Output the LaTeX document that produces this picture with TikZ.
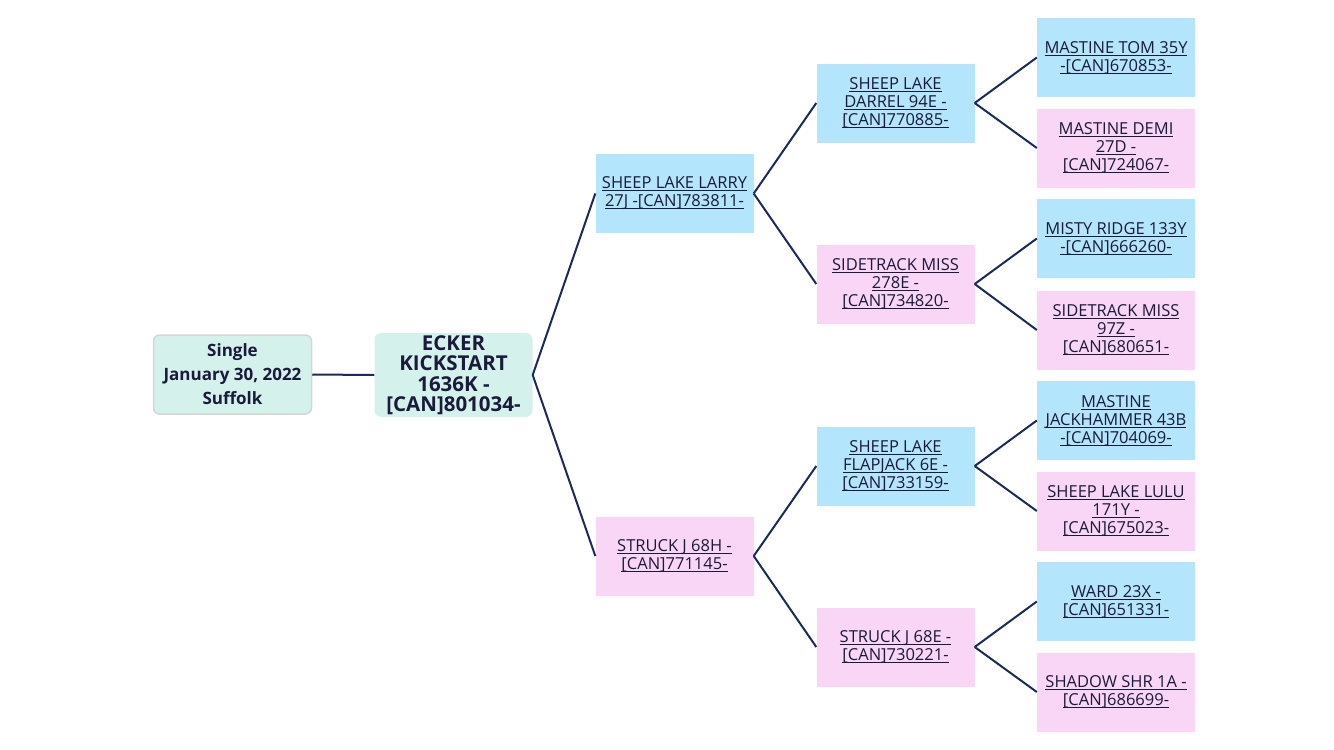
\documentclass[tikz,border=0pt]{standalone}
\usepackage{fontspec}
\setmainfont{Open Sans}
\definecolor{bluebox}{HTML}{B3E5FC}
\definecolor{pinkbox}{HTML}{F9D6F5}
\definecolor{tealbox}{HTML}{D4F1EC}
\definecolor{infoborder}{HTML}{D6D6D6}
\definecolor{linec}{HTML}{1B2A5C}
\definecolor{textc}{HTML}{1A1A3A}
\newcommand\ulx[1]{\setbox0\hbox{#1}\rlap{\rule[-2.2pt]{\wd0}{0.8pt}}\box0}
\tikzset{
  box/.style={minimum width=158pt, minimum height=79pt, align=center, inner sep=2pt,
    text=textc, font=\fontsize{16.5}{18}\selectfont},
  bluebox/.style={box, fill=bluebox},
  pinkbox/.style={box, fill=pinkbox},
  rootbox/.style={box, fill=tealbox, rounded corners=6pt, font=\bfseries\fontsize{20.5}{20.5}\selectfont},
  infobox/.style={box, fill=tealbox, draw=infoborder, line width=1.5pt, rounded corners=6pt, font=\bfseries\fontsize{17}{24}\selectfont},
  conn/.style={draw=linec, line width=2pt}
}
\begin{document}
\begin{tikzpicture}[x=1pt,y=-1pt]
\useasboundingbox (0,0) rectangle (1334,750);
\node[infobox] (info) at (232.5,374.5) {Single\\January 30, 2022\\Suffolk};
\node[rootbox] (root) at (453.5,375) {ECKER\\KICKSTART\\1636K -\\{}[CAN]801034-};
\node[bluebox] (s) at (674.5,193.5) {\ulx{SHEEP LAKE LARRY}\\\ulx{27J -[CAN]783811-}};
\node[pinkbox] (d) at (674.5,556) {\ulx{STRUCK J 68H -}\\\ulx{[CAN]771145-}};
\node[bluebox] (ss) at (895.5,103) {\ulx{SHEEP LAKE}\\\ulx{DARREL 94E -}\\\ulx{[CAN]770885-}};
\node[pinkbox] (sd) at (895.5,284) {\ulx{SIDETRACK MISS}\\\ulx{278E -}\\\ulx{[CAN]734820-}};
\node[bluebox] (ds) at (895.5,466) {\ulx{SHEEP LAKE}\\\ulx{FLAPJACK 6E -}\\\ulx{[CAN]733159-}};
\node[pinkbox] (dd) at (895.5,647) {\ulx{STRUCK J 68E -}\\\ulx{[CAN]730221-}};
\node[bluebox] (sss) at (1116,57.5) {\ulx{MASTINE TOM 35Y}\\\ulx{-[CAN]670853-}};
\node[pinkbox] (ssd) at (1116,148) {\ulx{MASTINE DEMI}\\\ulx{27D -}\\\ulx{[CAN]724067-}};
\node[bluebox] (sds) at (1116,238.5) {\ulx{MISTY RIDGE 133Y}\\\ulx{-[CAN]666260-}};
\node[pinkbox] (sdd) at (1116,330) {\ulx{SIDETRACK MISS}\\\ulx{97Z -}\\\ulx{[CAN]680651-}};
\node[bluebox] (dss) at (1116,420.5) {\ulx{MASTINE}\\\ulx{JACKHAMMER 43B}\\\ulx{-[CAN]704069-}};
\node[pinkbox] (dsd) at (1116,511) {\ulx{SHEEP LAKE LULU}\\\ulx{171Y -}\\\ulx{[CAN]675023-}};
\node[bluebox] (dds) at (1116,601.5) {\ulx{WARD 23X -}\\\ulx{[CAN]651331-}};
\node[pinkbox] (ddd) at (1116,692) {\ulx{SHADOW SHR 1A -}\\\ulx{[CAN]686699-}};
\draw[conn] (info.east) -- (root.west);
\draw[conn] (root.east) -- (s.west);
\draw[conn] (root.east) -- (d.west);
\draw[conn] (s.east) -- (ss.west);
\draw[conn] (s.east) -- (sd.west);
\draw[conn] (d.east) -- (ds.west);
\draw[conn] (d.east) -- (dd.west);
\draw[conn] (ss.east) -- (sss.west);
\draw[conn] (ss.east) -- (ssd.west);
\draw[conn] (sd.east) -- (sds.west);
\draw[conn] (sd.east) -- (sdd.west);
\draw[conn] (ds.east) -- (dss.west);
\draw[conn] (ds.east) -- (dsd.west);
\draw[conn] (dd.east) -- (dds.west);
\draw[conn] (dd.east) -- (ddd.west);
\end{tikzpicture}
\end{document}
